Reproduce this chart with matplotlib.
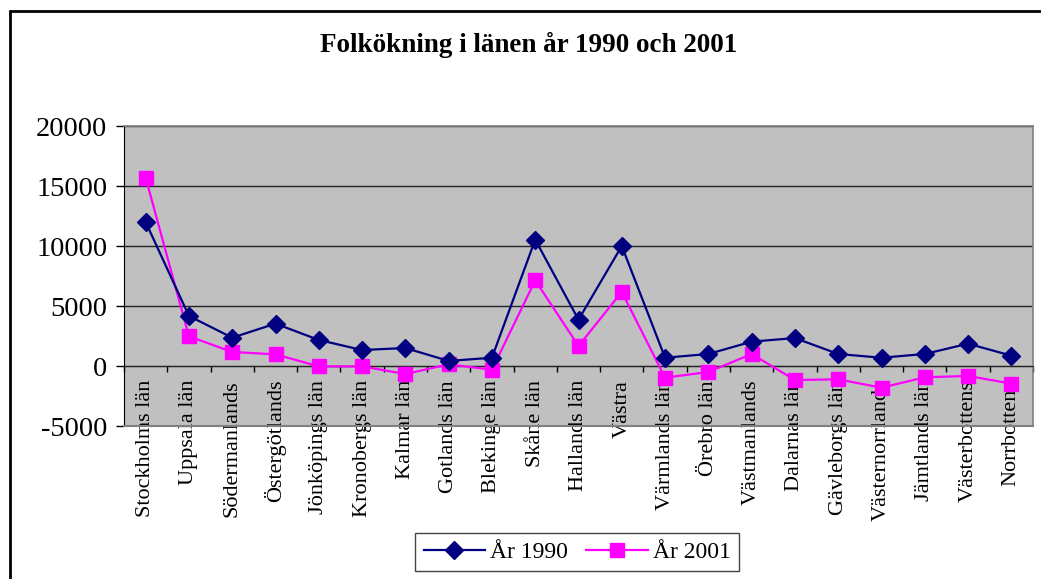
import numpy as np
import matplotlib
from matplotlib import pyplot as plt
from matplotlib.patches import Rectangle

#############################################
#Data
lan = ['Stockholms län', 'Uppsala län', 'Södermanlands', 'Östergötlands',
       'Jönköpings län', 'Kronobergs län', 'Kalmar län', 'Gotlands län',
       'Blekinge län', 'Skåne län', 'Hallands län', 'Västra',
       'Värmlands län', 'Örebro län', 'Västmanlands', 'Dalarnas län',
       'Gävleborgs län', 'Västernorrlands', 'Jämtlands län', 'Västerbottens',
       'Norrbottens']
ar_1990 = [12000, 4170, 2360, 3530, 2170, 1330, 1500, 420, 690, 10530,
           3860, 10000, 690, 1000, 2030, 2330, 1000, 690, 1000, 1860, 860]
ar_2001 = [15700, 2470, 1170, 970, -30, -30, -670, 140, -310, 7140,
           1670, 6170, -970, -500, 1000, -1170, -1110, -1810, -940, -830, -1470]
y_ticks = [-5000, 0, 5000, 10000, 15000, 20000]
#############################################

#############################################
#Style
matplotlib.rcParams.update({'font.family': 'Liberation Serif',
                            'axes.unicode_minus': False,
                            'figure.dpi': 100})
#############################################

fig = plt.figure(figsize=(10.41, 5.79))
ax = fig.add_axes([124/1041, 1-426/579, (1033-124)/1041, 300/579])

x = np.arange(len(lan))
ax.plot(x, ar_1990, color='#000080', lw=1.6, marker='D', ms=9,
        label='År 1990', zorder=4)
ax.plot(x, ar_2001, color='#FF00FF', lw=1.6, marker='s', ms=10,
        label='År 2001', zorder=3)

ax.set_facecolor('#C0C0C0')
ax.set_xlim(-0.5, len(lan) - 0.5)
ax.set_ylim(-5000, 20000)
ax.set_yticks(y_ticks)
ax.tick_params(axis='y', labelsize=20.5, length=6, width=1, direction='out',
               pad=6)
ax.yaxis.grid(True, color='#222222', lw=1)
ax.set_axisbelow(True)

#category axis crosses at zero, labels just below it
ax.spines['bottom'].set_position(('data', 0))
ax.spines['bottom'].set_color('#222222')
ax.set_xticks(np.arange(-0.5, len(lan), 1))
ax.set_xticklabels([])
ax.set_xticks(x, minor=True)
ax.set_xticklabels(lan, minor=True, rotation=90, fontsize=16, va='top')
ax.tick_params(axis='x', which='major', direction='out', length=4, width=1)
ax.tick_params(axis='x', which='minor', length=0, pad=10)

for s in ['top', 'right']:
    ax.spines[s].set_color('#808080')
    ax.spines[s].set_linewidth(1.2)
ax.plot([0, 1], [0, 0], transform=ax.transAxes, color='#808080', lw=1.5,
        clip_on=False, zorder=5)

fig.text(529/1041, 1-45/579, 'Folkökning i länen år 1990 och 2001',
         ha='center', va='center', fontsize=19.5, fontweight='bold')

fig.legend(loc='center', bbox_to_anchor=(577/1041, 1-552/579), ncol=2,
           fontsize=17, frameon=True, fancybox=False, edgecolor='#444444',
           framealpha=1, handlelength=2.6, handletextpad=0.2,
           columnspacing=0.8, borderpad=0.35)

#outer chart frame
fig.patches.append(Rectangle((10/1041, -0.1), 1.2, 1.1 - 11.5/579,
                             transform=fig.transFigure, fill=False,
                             edgecolor='black', lw=2))

plt.savefig('out.png', dpi=100)
